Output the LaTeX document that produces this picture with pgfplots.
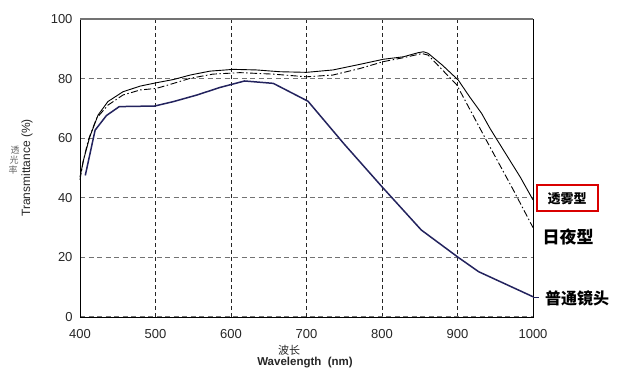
\documentclass[border=0pt]{standalone}
\usepackage{fontspec}
\setmainfont{Liberation Sans}
\newfontfamily\cjk{Noto Sans CJK SC}
\usepackage{pgfplots}
\pgfplotsset{compat=1.18}
\definecolor{navy}{HTML}{23235E}
\begin{document}
\begin{tikzpicture}[x=1bp,y=1bp]
\useasboundingbox (0,0) rectangle (626,372);
\begin{axis}[
  at={(80bp,55bp)}, anchor=south west, scale only axis,
  width=453bp, height=298bp,
  xmin=400, xmax=1000, ymin=0, ymax=100,
  xtick={400,500,...,1000}, ytick={0,20,...,100},
  grid=major,
  x grid style={black!85, line width=0.6bp, dash pattern=on 4bp off 3bp},
  y grid style={black!55, line width=1.1bp, dash pattern=on 5bp off 3.5bp},
  major tick length=0pt,
  axis line style={black, line width=0.9bp},
  tick label style={font=\fontsize{13bp}{15bp}\selectfont, text=black!85},
  /pgf/number format/assume math mode=true,
  /pgf/number format/1000 sep={},
  x tick label style={yshift=-9bp},
  y tick label style={xshift=-4bp},
  clip=false,
]
\addplot[navy, line width=1.5bp] coordinates {
(407,47.5)(420,62.7)(435,67.6)(452,70.6)(499,70.8)(524,72.3)(555,74.5)(585,77)(618,79.2)(656,78.4)(702,72.4)(750,58)(800,43.7)(852,29.2)(901,20)(928,15.2)(1000,6.8)};
\addplot[black, line width=0.9bp] coordinates {
(400,47)(405,53)(413,60.5)(424,67.8)(437,72.3)(457,75.6)(480,77.5)(501,78.6)(524,79.7)(546,81.2)(572,82.5)(603,83.1)(634,82.9)(665,82.3)(700,82.1)(735,82.9)(771,84.8)(802,86.5)(828,87.3)(848,88.7)(855,89)(861,88.5)(880,84.5)(901,79.5)(916,73.9)(932,68.3)(943,63.3)(954,58.8)(983,47)(1000,39.3)};
\addplot[black, line width=0.9bp, dash pattern=on 7bp off 2.5bp on 1.5bp off 2.5bp] coordinates {
(400,46)(404,52)(411,59.4)(422,66.7)(437,71.1)(457,74.5)(480,76.2)(501,76.7)(524,78.4)(546,80.1)(576,81.5)(612,82)(656,81.5)(700,80.6)(735,81.2)(771,83.4)(802,85.7)(828,87)(853,88.4)(861,87.9)(899,77.9)(938,59.4)(974,42.6)(1000,30)};
\draw[black!55, line width=1.2bp] (rel axis cs:0,1) -- (rel axis cs:1,1);
\end{axis}
% right-hand labels
\draw[red!85!black, line width=1.2bp] (537,187) rectangle (598,161);
\node[font=\cjk\bfseries\fontsize{13bp}{14bp}\selectfont] at (567,173) {透雾型};
\node[font=\cjk\bfseries\fontsize{17bp}{18bp}\selectfont] at (568,135) {日夜型};
\node[font=\cjk\bfseries\fontsize{16bp}{17bp}\selectfont] at (577,74) {普通镜头};
\draw[navy, line width=0.8bp] (533,75) -- (539,75);
% axis titles
\node[rotate=90, font=\fontsize{12bp}{13bp}\selectfont, text=black!85] at (27,204) {Transmittance (\%)};
\node[font=\cjk\fontsize{9bp}{10bp}\selectfont, text=black!60, inner sep=0pt] at (15,222) {透};
\node[font=\cjk\fontsize{9bp}{10bp}\selectfont, text=black!60, inner sep=0pt] at (14,212) {光};
\node[font=\cjk\fontsize{9bp}{10bp}\selectfont, text=black!60, inner sep=0pt] at (13,202) {率};
\node[font=\cjk\fontsize{11bp}{12bp}\selectfont, text=black!85] at (289,22) {波长};
\node[font=\bfseries\fontsize{11.5bp}{12bp}\selectfont, text=black!85] at (305,9) {Wavelength \ (nm)};
\end{tikzpicture}
\end{document}
